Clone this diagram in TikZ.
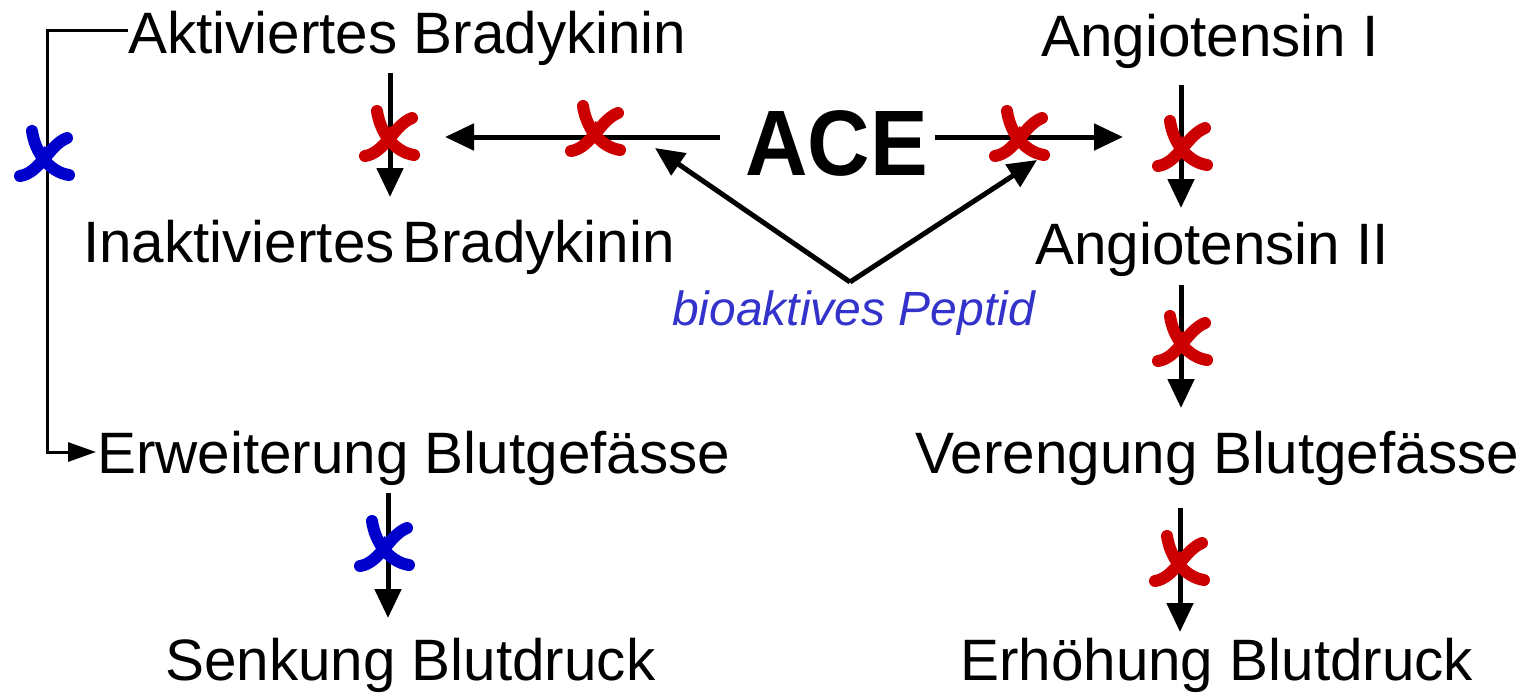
\documentclass[tikz,border=0pt]{standalone}
\usepackage{fontspec}
\setmainfont{Liberation Sans}
\usetikzlibrary{arrows.meta}
\definecolor{inhibred}{RGB}{204,0,0}
\definecolor{inhibblue}{RGB}{0,0,204}
\definecolor{peptblue}{RGB}{51,51,204}
\tikzset{
  label/.style={anchor=base west,inner sep=0pt,font=\fontsize{58.4pt}{70pt}\selectfont},
  flow/.style={line width=5pt,-{Triangle[length=29pt,width=26pt]}},
  thinflow/.style={line width=3pt,-{Triangle[length=28pt,width=19pt]}},
  xmark/.pic={
    % brush-like inhibition cross: two curved strokes, thick in the middle
    \draw[line width=12pt,line cap=round,#1]
      (-13,-24) .. controls (-10,-3) and (4,17) .. (24,20);
    \draw[line width=12pt,line cap=round,#1]
      (22,-17) .. controls (4,-10) and (-5,18) .. (-25,21);
    \draw[line width=15pt,#1] (-5,-3) -- (5,5);
  }
}
\begin{document}
\begin{tikzpicture}[x=1pt,y=-1pt]
\useasboundingbox (0,0) rectangle (1528,694);

% labels
\node[label] (aktbk) at (128,53) {Aktiviertes Bradykinin};
\node[label] (inakt) at (83,262) {Inaktiviertes};
\node[label] (inbk) at (402,262) {Bradykinin};
\node[label] (angI) at (1041,56) {Angiotensin I};
\node[label] (angII) at (1035,264) {Angiotensin II};
\node[label] (erw) at (97,473) {Erweiterung Blutgefässe};
\node[label] (ver) at (915,473) {Verengung Blutgefässe};
\node[label] (senk) at (165,680) {Senkung Blutdruck};
\node[label] (erh) at (960,680) {Erhöhung Blutdruck};
\node[anchor=base west,inner sep=0pt,xscale=0.93,font=\fontsize{93pt}{100pt}\selectfont\bfseries] (ace) at (745,175) {ACE};
\node[anchor=base west,inner sep=0pt,text=peptblue,font=\fontsize{48pt}{56pt}\selectfont\itshape] (pep) at (672,325) {bioaktives Peptid};

% arrow end points
\coordinate (bkA) at (390,73);   \coordinate (bkB) at (390,197);
\coordinate (a1A) at (1181,85);  \coordinate (a1B) at (1181,208);
\coordinate (a2A) at (1181,285); \coordinate (a2B) at (1181,408);
\coordinate (v1A) at (1180,508); \coordinate (v1B) at (1180,632);
\coordinate (e1A) at (388,493);  \coordinate (e1B) at (388,618);
\coordinate (aceL) at (720,137); \coordinate (aceLtip) at (445,137);
\coordinate (aceR) at (935,137); \coordinate (aceRtip) at (1123,137);
\coordinate (pepTop) at (850,282);
\coordinate (pepL) at (655,148); \coordinate (pepR) at (1037,160);
\coordinate (brS) at (128,30); \coordinate (brC1) at (47,30);
\coordinate (brC2) at (47,452); \coordinate (brE) at (96,452);

% reaction arrows
\draw[flow] (bkA) -- (bkB);
\draw[flow] (a1A) -- (a1B);
\draw[flow] (a2A) -- (a2B);
\draw[flow] (v1A) -- (v1B);
\draw[flow] (e1A) -- (e1B);
\draw[flow] (aceL) -- (aceLtip);
\draw[flow] (aceR) -- (aceRtip);
\draw[flow] (pepTop) -- (pepL);
\draw[flow] (pepTop) -- (pepR);
\draw[thinflow] (brS) -- (brC1) -- (brC2) -- (brE);

% inhibition marks
\pic at (390,135) {xmark=inhibred};
\pic at (596,130) {xmark=inhibred};
\pic at (1020,135) {xmark=inhibred};
\pic at (1183,145) {xmark=inhibred};
\pic at (1183,340) {xmark=inhibred};
\pic at (1180,560) {xmark=inhibred};
\pic at (45,155) {xmark=inhibblue};
\pic at (385,545) {xmark=inhibblue};
\end{tikzpicture}
\end{document}
